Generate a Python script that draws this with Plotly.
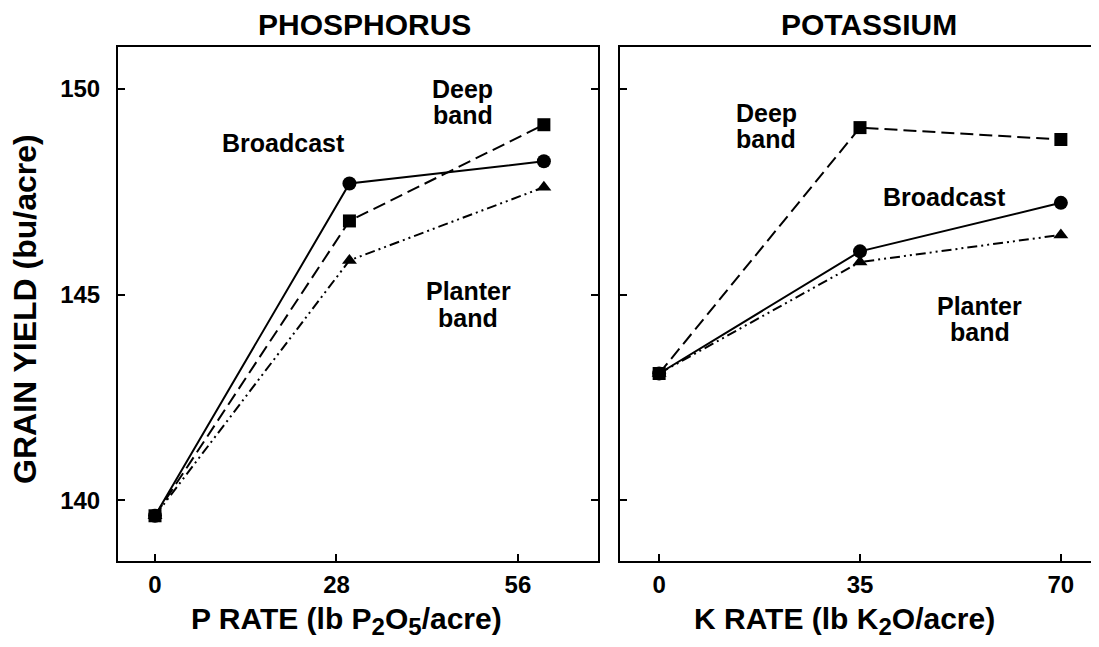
import plotly.graph_objects as go

# ---- data ----
p_rate = [0, 30, 60]            # plotted positions on the P scale
p_ticks = [0, 28, 56]
k_rate = [0, 35, 70]
k_ticks = [0, 35, 70]
yield_ticks = [140, 145, 150]

p_broadcast = [139.62, 147.70, 148.24]
p_deep = [139.62, 146.79, 149.13]
p_planter = [139.62, 145.83, 147.61]

k_broadcast = [143.08, 146.05, 147.23]
k_deep = [143.08, 149.06, 148.77]
k_planter = [143.08, 145.79, 146.45]

panel_titles = ["PHOSPHORUS", "POTASSIUM"]
SUB = "<sub><span style='font-size:24px'>{}</span></sub>"
x_titles = ["P RATE (lb P" + SUB.format("2") + "O" + SUB.format("5") + "/acre)",
            "K RATE (lb K" + SUB.format("2") + "O/acre)"]
y_title = "GRAIN YIELD (bu/acre)"

FONT = "Liberation Sans"
BLACK = "#000000"

fig = go.Figure()

styles = {
    "Broadcast": dict(dash="solid", symbol="circle", size=14),
    "Planter band": dict(dash="10px,4px,2px,4px,2px,4px", symbol="triangle-up", size=13),
    "Deep band": dict(dash="13px,6px", symbol="square", size=13),
}

series = [
    ("Broadcast", p_broadcast, k_broadcast),
    ("Planter band", p_planter, k_planter),
    ("Deep band", p_deep, k_deep),
]

for name, pv, kv in series:
    st = styles[name]
    fig.add_trace(go.Scatter(
        x=p_rate, y=pv, mode="lines+markers", name=name, showlegend=False,
        line=dict(color=BLACK, width=2, dash=st["dash"]),
        marker=dict(symbol=st["symbol"], size=st["size"], color=BLACK),
        xaxis="x", yaxis="y"))
    fig.add_trace(go.Scatter(
        x=k_rate, y=kv, mode="lines+markers", name=name, showlegend=False,
        line=dict(color=BLACK, width=2, dash=st["dash"]),
        marker=dict(symbol=st["symbol"], size=st["size"], color=BLACK),
        xaxis="x2", yaxis="y2"))

# page body adds an 8px offset; size the figure to fit the window
OFF = 8
W, H = 1099 - OFF, 647 - OFF
def px_x(p):
    return (p - OFF) / W
def px_y(p):
    return 1 - (p - OFF) / H

axis_common = dict(
    showline=True, linecolor=BLACK, linewidth=2, mirror=True,
    ticks="inside", ticklen=7, tickwidth=1.5, tickcolor=BLACK,
    showgrid=False, zeroline=False,
    tickfont=dict(family=FONT, size=24, color=BLACK, weight="bold"),
)

fig.update_layout(
    width=W, height=H,
    margin=dict(l=0, r=0, t=0, b=0),
    paper_bgcolor="white", plot_bgcolor="white",
    xaxis=dict(axis_common, domain=[px_x(118), px_x(598)], range=[-5.71, 68.35],
               tickvals=p_ticks, ticktext=[str(t) for t in p_ticks],
               anchor="y", ticklabelstandoff=1),
    xaxis2=dict(axis_common, domain=[px_x(620), px_x(1098)], range=[-6.82, 76.47],
                tickvals=k_ticks, ticktext=[str(t) for t in k_ticks],
                anchor="y2", ticklabelstandoff=1),
    yaxis=dict(axis_common, domain=[px_y(561), px_y(47)], range=[138.52, 151.02],
               tickvals=yield_ticks, anchor="x", ticklabelstandoff=11,
               mirror="ticks"),
    yaxis2=dict(axis_common, domain=[px_y(561), px_y(47)], range=[138.52, 151.02],
                tickvals=yield_ticks, anchor="x2", showticklabels=False,
                mirror="ticks"),
)

ann = []
def txt(text, x, y, size, xref="paper", yref="paper", angle=0):
    ann.append(dict(text=text, x=x, y=y, xref=xref, yref=yref, showarrow=False,
                    xanchor="center", yanchor="middle", textangle=angle,
                    font=dict(family=FONT, size=size, color=BLACK, weight="bold")))

# panel titles
txt(panel_titles[0], px_x(364), px_y(24), 30)
txt(panel_titles[1], px_x(869), px_y(24), 30)
# axis titles
txt(x_titles[0], px_x(346), px_y(621), 30)
txt(x_titles[1], px_x(844), px_y(621), 30)
txt(y_title, px_x(25), px_y(309), 32, angle=-90)

# in-plot labels (one annotation per text line)
txt("Broadcast", 19.75, 148.69, 25, "x", "y")
txt("Deep", 47.5, 150.0, 25, "x", "y")
txt("band", 47.5, 149.36, 25, "x", "y")
txt("Planter", 48.3, 145.08, 25, "x", "y")
txt("band", 48.3, 144.42, 25, "x", "y")

txt("Deep", 18.7, 149.42, 25, "x2", "y2")
txt("band", 18.7, 148.78, 25, "x2", "y2")
txt("Broadcast", 49.8, 147.37, 25, "x2", "y2")
txt("Planter", 55.9, 144.72, 25, "x2", "y2")
txt("band", 55.9, 144.08, 25, "x2", "y2")

fig.update_layout(annotations=ann)

fig.write_html("out.html")
